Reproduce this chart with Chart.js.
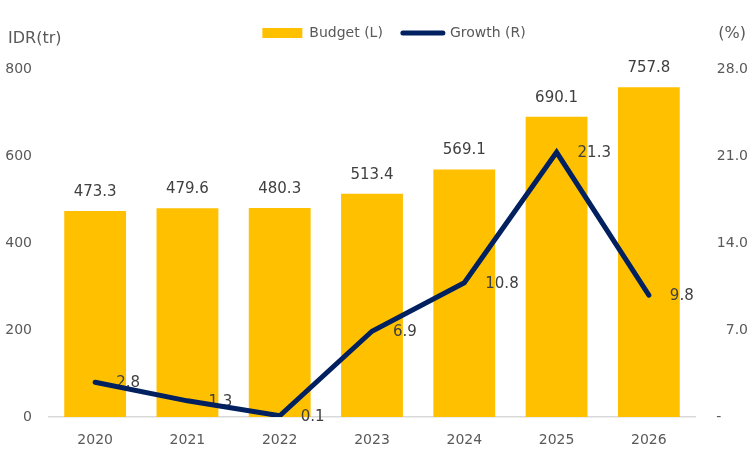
<!DOCTYPE html>
<html>
<head>
<meta charset="utf-8">
<script src="https://cdn.jsdelivr.net/npm/chart.js@4/dist/chart.umd.min.js"></script>
<style>
  body { margin: 0; background: #fff; }
  #budgetChart { display: block; }
</style>
</head>
<body>
<canvas id="budgetChart" width="755" height="455"></canvas>
<script>
const years = ['2020', '2021', '2022', '2023', '2024', '2025', '2026'];
const budget = [473.3, 479.6, 480.3, 513.4, 569.1, 690.1, 757.8];
const growth = [2.8, 1.3, 0.1, 6.9, 10.8, 21.3, 9.8];
const leftTicks = [0, 200, 400, 600, 800];
const rightTicks = [0, 7, 14, 21, 28];

const FONT = '"DejaVu Sans", sans-serif';
const YELLOW = '#FFC000';
const NAVY = '#002060';

// Value labels: bars above, line points to the right (drawn before the line so it sits on top)
const valueLabels = {
    id: 'valueLabels',
    afterDatasetDraw(chart, args) {
        if (args.index !== 0) return;
        const c = chart.ctx;
        c.save();
        c.font = '15px ' + FONT;
        c.fillStyle = '#404040';
        c.textBaseline = 'middle';
        c.textAlign = 'center';
        chart.getDatasetMeta(0).data.forEach((bar, i) => {
            c.fillText(budget[i].toFixed(1), bar.x, bar.y - 19);
        });
        c.textAlign = 'left';
        chart.getDatasetMeta(1).data.forEach((pt, i) => {
            c.fillText(growth[i].toFixed(1), pt.x + 21, pt.y + 1);
        });
        c.restore();
    }
};

// Unit captions above both axes + legend placement
const axisCaptions = {
    id: 'axisCaptions',
    afterLayout(chart) {
        const lg = chart.legend;
        if (!lg) return;
        lg.top = 6;
        lg.bottom = 50;
        lg.left += 20;
        lg.right += 20;
    },
    afterDraw(chart) {
        const c = chart.ctx;
        c.save();
        c.font = '16px ' + FONT;
        c.fillStyle = '#595959';
        c.textBaseline = 'middle';
        c.textAlign = 'left';
        c.fillText('IDR(tr)', 8, 39);
        c.textAlign = 'right';
        c.fillText('(%)', 746, 34);
        c.restore();
    }
};

const noGrid = { display: false, drawTicks: false, tickLength: 0 };

new Chart(document.getElementById('budgetChart'), {
    type: 'bar',
    data: {
        labels: years,
        datasets: [{
            label: 'Budget (L)',
            data: budget,
            backgroundColor: YELLOW,
            borderWidth: 0,
            categoryPercentage: 1,
            barPercentage: 0.67,
            yAxisID: 'y',
            order: 2
        }, {
            type: 'line',
            label: 'Growth (R)',
            data: growth,
            borderColor: NAVY,
            backgroundColor: NAVY,
            borderWidth: 5,
            borderCapStyle: 'round',
            borderJoinStyle: 'miter',
            pointRadius: 0,
            tension: 0,
            yAxisID: 'y1',
            order: 1
        }]
    },
    options: {
        responsive: false,
        animation: false,
        devicePixelRatio: 1,
        layout: { padding: { top: 25, left: 0, right: 7, bottom: 0 } },
        plugins: {
            tooltip: { enabled: false },
            legend: {
                position: 'top',
                labels: {
                    usePointStyle: true,
                    pointStyleWidth: 40,
                    boxHeight: 10,
                    padding: 20,
                    color: '#595959',
                    font: { size: 14, family: FONT },
                    generateLabels: () => [
                        { text: 'Budget (L)', fillStyle: YELLOW, strokeStyle: YELLOW, lineWidth: 0, pointStyle: 'rect', fontColor: '#595959', datasetIndex: 0 },
                        { text: 'Growth (R)', fillStyle: NAVY, strokeStyle: NAVY, lineWidth: 5, lineCap: 'round', pointStyle: 'line', fontColor: '#595959', datasetIndex: 1 }
                    ]
                }
            }
        },
        scales: {
            x: {
                grid: noGrid,
                border: { display: true, color: '#d9d9d9', width: 1.5 },
                ticks: { color: '#595959', font: { size: 14, family: FONT }, padding: 15 },
                afterFit: (s) => { s.height = 38; }
            },
            y: {
                position: 'left',
                min: 0,
                max: 800,
                grid: noGrid,
                border: { display: false },
                afterBuildTicks: (s) => { s.ticks = leftTicks.map(v => ({ value: v })); },
                ticks: { color: '#595959', font: { size: 14, family: FONT }, padding: 17 },
                afterFit: (s) => { s.width = 49; }
            },
            y1: {
                position: 'right',
                min: 0,
                max: 28,
                grid: noGrid,
                border: { display: false },
                afterBuildTicks: (s) => { s.ticks = rightTicks.map(v => ({ value: v })); },
                ticks: {
                    color: '#595959',
                    font: { size: 14, family: FONT },
                    crossAlign: 'far',
                    callback: (v) => v === 0 ? '-\u2007\u2007\u2008 ' : v.toFixed(1)
                },
                afterFit: (s) => { s.width = 53; }
            }
        }
    },
    plugins: [valueLabels, axisCaptions]
});
</script>
</body>
</html>
